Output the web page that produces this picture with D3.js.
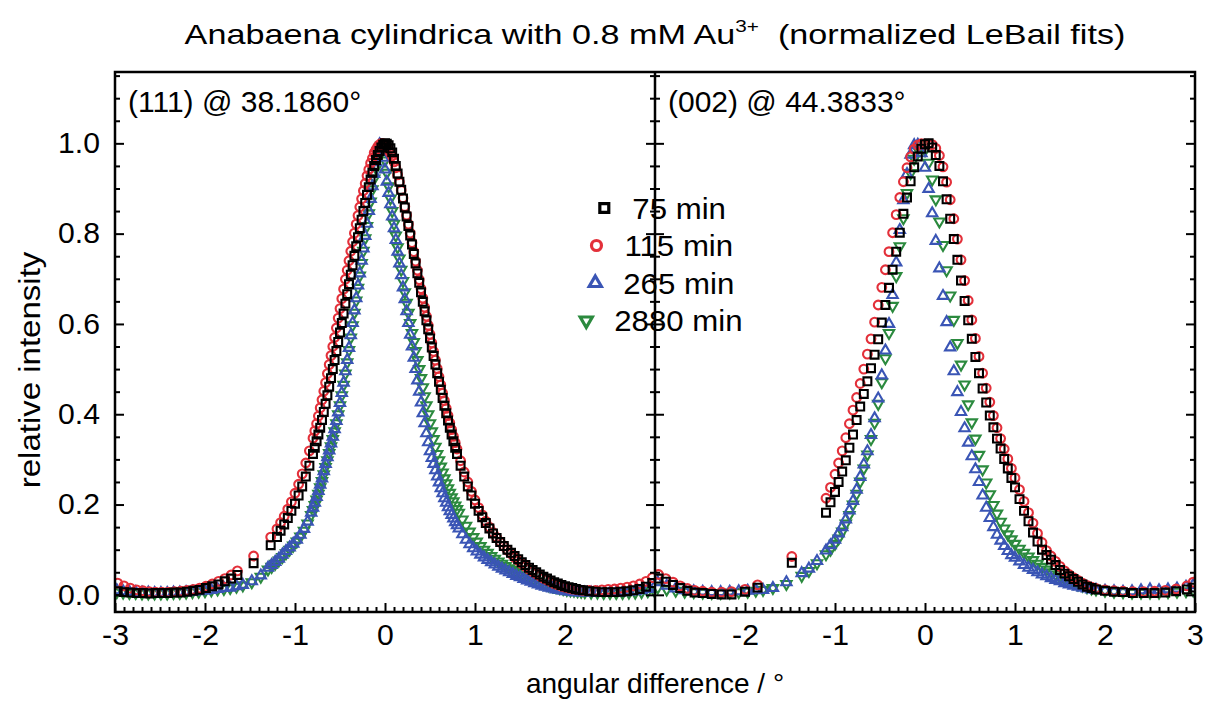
<!DOCTYPE html>
<meta charset="utf-8">
<style>
  body { margin: 0; background: #fff; }
  svg { display: block; font-family: "Liberation Sans", Arial, Helvetica, sans-serif; }
</style>
<body>
<script src="https://cdn.jsdelivr.net/npm/d3@7"></script>
<script>

// series names and colours (legend order)
var seriesNames = ["75 min", "115 min", "265 min", "2880 min"];
var seriesColors = ["#000000", "#e3303a", "#3a55b5", "#2b8a3e"];

var panelLabels = ["(111) @ 38.1860\u00b0", "(002) @ 44.3833\u00b0"];
var yTicks = [0, 0.2, 0.4, 0.6, 0.8, 1.0];
var xTicksLeft = [-3, -2, -1, 0, 1, 2];
var xTicksRight = [-2, -1, 0, 1, 2, 3];

// (111) rows: [angular difference, 75 min, 115 min]
var p111early = [
  [-2.97,.008,.026],[-2.90,.006,.020],[-2.83,.005,.015],[-2.76,.004,.011],[-2.69,.004,.009],
  [-2.62,.003,.007],[-2.55,.004,.006],[-2.48,.004,.006],[-2.41,.004,.006],[-2.34,.005,.007],
  [-2.27,.005,.008],[-2.20,.007,.010],[-2.13,.009,.012],[-2.06,.011,.015],[-1.99,.015,.019],
  [-1.92,.019,.024],[-1.85,.023,.030],[-1.78,.030,.036],[-1.71,.036,.044],[-1.64,.044,.053],
  [-1.46,.070,.086],[-1.27,.110,.128],
  [-1.20,.128,.146],[-1.16,.142,.160],[-1.12,.156,.174],[-1.08,.170,.190],[-1.04,.186,.206],
  [-1.00,.202,.225],[-0.96,.220,.245],[-0.92,.240,.268],[-0.88,.262,.292],[-0.84,.286,.319],
  [-0.80,.312,.347],[-0.78,.326,.363],[-0.76,.340,.379],[-0.74,.355,.396],[-0.72,.370,.414],
  [-0.70,.387,.432],[-0.68,.405,.451],[-0.66,.423,.470],[-0.64,.442,.490],[-0.62,.461,.510],
  [-0.60,.480,.530],[-0.58,.500,.550],[-0.56,.520,.570],[-0.54,.540,.591],[-0.52,.560,.613],
  [-0.50,.581,.634],[-0.48,.602,.656],[-0.46,.623,.677],[-0.44,.645,.699],[-0.42,.666,.719],
  [-0.40,.688,.740],[-0.38,.709,.761],[-0.36,.730,.782],[-0.34,.751,.801],[-0.32,.772,.821],
  [-0.30,.792,.840],[-0.28,.812,.859],[-0.26,.831,.877],[-0.24,.850,.895],[-0.22,.868,.911],
  [-0.20,.886,.928],[-0.18,.903,.942],[-0.16,.920,.956],[-0.14,.935,.967],[-0.12,.950,.979],
  [-0.10,.963,.986],[-0.08,.974,.993],[-0.06,.983,.997],[-0.04,.991,1.000],[-0.02,.997,.999],
  [0.00,1.000,.996],[0.02,.999,.991],[0.04,.996,.985],[0.06,.989,.979],[0.08,.980,.972],
  [0.10,.966,.959],[0.12,.950,.946],[0.14,.933,.930],[0.16,.915,.914],[0.18,.897,.896],
  [0.20,.878,.879],[0.22,.858,.860],[0.24,.838,.841],[0.26,.817,.821],[0.28,.796,.801],
  [0.30,.776,.780],[0.32,.755,.760],[0.34,.734,.739],[0.36,.712,.719],[0.38,.691,.698],
  [0.40,.670,.678],[0.42,.649,.657],[0.44,.628,.637],[0.46,.608,.617],[0.48,.588,.597],
  [0.50,.568,.577],[0.52,.548,.558],[0.54,.529,.539],[0.56,.510,.520],[0.58,.491,.501],
  [0.60,.472,.483],[0.62,.454,.465],[0.64,.436,.447],[0.66,.419,.430],[0.68,.402,.413],
  [0.70,.386,.397],[0.72,.370,.381],[0.74,.355,.366],[0.76,.340,.351],[0.78,.326,.337],
  [0.80,.312,.323],
  [0.84,.286,.297],[0.88,.262,.272],[0.92,.240,.250],[0.96,.220,.229],
  [1.00,.202,.210],[1.04,.186,.193],[1.08,.172,.177],[1.12,.159,.163],[1.16,.147,.150],
  [1.20,.136,.138],[1.24,.126,.127],[1.28,.117,.117],[1.32,.108,.108],[1.36,.100,.099],
  [1.40,.093,.091],[1.44,.086,.083],[1.48,.079,.076],[1.52,.072,.069],[1.56,.066,.063],
  [1.60,.060,.057],[1.64,.055,.052],[1.68,.050,.047],[1.72,.045,.042],[1.76,.040,.037],
  [1.80,.036,.033],[1.84,.032,.029],[1.88,.028,.025],[1.92,.025,.022],[1.96,.022,.019],
  [2.00,.019,.017],[2.04,.017,.015],[2.08,.015,.013],[2.12,.013,.012],[2.16,.011,.011],
  [2.20,.010,.010],[2.27,.008,.010],[2.34,.007,.010],[2.41,.006,.011],[2.48,.006,.012],
  [2.55,.006,.013],[2.62,.007,.015],[2.69,.008,.017],[2.76,.010,.020],[2.83,.013,.024],
  [2.90,.018,.030],[2.97,.026,.038]
];

// (111) rows: [angular difference, 265 min, 2880 min]
var p111late = [
  [-2.98,.010,.006],[-2.91,.008,.005],[-2.84,.007,.004],[-2.77,.006,.004],[-2.70,.005,.003],
  [-2.63,.005,.003],[-2.56,.004,.003],[-2.49,.004,.003],[-2.42,.004,.003],[-2.35,.005,.004],
  [-2.28,.005,.004],[-2.21,.006,.005],[-2.14,.007,.006],[-2.07,.008,.007],[-2.00,.009,.008],
  [-1.93,.011,.010],[-1.86,.013,.012],[-1.79,.015,.013],[-1.72,.016,.015],[-1.65,.019,.018],
  [-1.58,.022,.021],[-1.48,.030,.028],[-1.38,.043,.040],
  [-1.30,.060,.056],[-1.26,.066,.062],[-1.22,.073,.069],[-1.18,.080,.076],[-1.14,.089,.084],
  [-1.10,.097,.092],[-1.06,.105,.100],[-1.02,.113,.109],[-0.98,.122,.118],[-0.94,.133,.129],
  [-0.90,.146,.142],[-0.86,.162,.158],[-0.82,.182,.177],
  [-0.80,.193,.188],[-0.78,.204,.199],[-0.76,.217,.211],[-0.74,.230,.224],[-0.72,.244,.238],
  [-0.70,.258,.252],[-0.68,.274,.267],[-0.66,.290,.283],[-0.64,.305,.298],[-0.62,.320,.314],
  [-0.60,.335,.329],[-0.58,.350,.345],[-0.56,.367,.362],[-0.54,.385,.380],[-0.52,.404,.400],
  [-0.50,.425,.420],[-0.48,.447,.442],[-0.46,.470,.465],[-0.44,.495,.490],[-0.42,.520,.515],
  [-0.40,.547,.542],[-0.38,.575,.570],[-0.36,.602,.597],[-0.34,.630,.625],[-0.32,.657,.652],
  [-0.30,.685,.680],[-0.28,.712,.707],[-0.26,.740,.735],[-0.24,.767,.762],[-0.22,.795,.790],
  [-0.20,.822,.817],[-0.18,.850,.845],[-0.16,.877,.871],[-0.14,.905,.898],[-0.12,.932,.922],
  [-0.10,.958,.945],[-0.08,.985,.965],[-0.06,.998,.982],[-0.04,.990,.995],[-0.02,.968,.990],
  [0.00,.942,.962],[0.02,.915,.935],[0.04,.890,.905],[0.06,.865,.878],[0.08,.838,.850],
  [0.10,.812,.822],[0.12,.786,.796],[0.14,.760,.770],[0.16,.734,.745],[0.18,.708,.720],
  [0.20,.681,.695],[0.22,.655,.670],[0.24,.628,.647],[0.26,.602,.625],[0.28,.576,.602],
  [0.30,.550,.580],[0.32,.525,.560],[0.34,.500,.540],[0.36,.475,.520],[0.38,.450,.500],
  [0.40,.426,.480],[0.42,.402,.460],[0.44,.380,.440],[0.46,.358,.420],[0.48,.338,.400],
  [0.50,.318,.380],[0.52,.303,.362],[0.54,.290,.345],[0.56,.276,.328],[0.58,.262,.312],
  [0.60,.249,.298],[0.62,.236,.284],[0.64,.225,.271],[0.66,.214,.258],[0.68,.204,.247],
  [0.70,.194,.236],[0.72,.185,.226],[0.74,.177,.216],[0.76,.169,.207],[0.78,.161,.198],
  [0.80,.154,.190],
  [0.82,.147,.182],[0.86,.134,.167],[0.90,.122,.153],[0.94,.112,.140],[0.98,.103,.128],
  [1.02,.096,.118],[1.06,.089,.108],[1.10,.083,.100],[1.14,.077,.093],[1.18,.072,.086],
  [1.22,.067,.080],[1.26,.062,.074],[1.30,.058,.069],[1.34,.054,.064],[1.38,.050,.059],
  [1.42,.046,.055],[1.46,.042,.051],[1.50,.039,.047],[1.54,.035,.043],[1.58,.032,.040],
  [1.62,.029,.036],[1.66,.026,.033],[1.70,.023,.030],[1.74,.020,.027],[1.78,.018,.024],
  [1.82,.016,.021],[1.86,.014,.019],[1.90,.012,.017],[1.94,.011,.015],[1.98,.009,.013],
  [2.02,.008,.011],[2.06,.007,.010],[2.10,.006,.009],[2.14,.006,.008],[2.18,.005,.007],
  [2.22,.005,.006],[2.29,.005,.005],[2.36,.004,.005],[2.43,.004,.004],[2.50,.005,.004],
  [2.57,.005,.004],[2.64,.006,.004],[2.71,.007,.005],[2.78,.008,.005],[2.85,.010,.006],
  [2.92,.013,.008],[2.99,.017,.010]
];

// (002) rows: [angular difference, 75 min, 115 min]
var p002early = [
  [-2.96,.036,.045],[-2.88,.029,.036],[-2.80,.022,.028],[-2.72,.015,.020],[-2.64,.009,.014],
  [-2.56,.005,.010],[-2.47,.004,.008],[-2.37,.002,.006],[-2.26,.001,.006],[-2.15,.001,.007],
  [-2.00,.007,.012],[-1.86,.016,.022],[-1.48,.071,.085],
  [-1.10,.182,.214],[-1.05,.205,.238],
  [-1.00,.228,.267],[-0.96,.250,.292],[-0.92,.273,.319],[-0.88,.298,.348],[-0.84,.326,.379],
  [-0.80,.355,.409],[-0.76,.387,.437],[-0.72,.417,.468],[-0.68,.445,.500],[-0.64,.473,.533],
  [-0.60,.502,.567],[-0.56,.532,.604],[-0.52,.566,.642],[-0.48,.603,.681],[-0.44,.642,.720],
  [-0.40,.680,.760],[-0.36,.720,.802],[-0.32,.760,.842],[-0.28,.802,.880],[-0.24,.844,.915],
  [-0.20,.880,.946],[-0.16,.916,.970],[-0.12,.947,.987],[-0.08,.971,.996],[-0.04,.988,.999],
  [0.00,.998,.998],[0.04,1.000,.998],[0.08,.991,.997],[0.12,.974,.989],[0.16,.950,.973],
  [0.20,.916,.948],[0.24,.876,.914],[0.28,.833,.875],[0.32,.788,.833],[0.36,.742,.788],
  [0.40,.696,.742],[0.44,.651,.696],[0.48,.608,.652],[0.52,.567,.609],[0.56,.527,.568],
  [0.60,.491,.528],[0.64,.457,.491],[0.68,.426,.458],[0.72,.397,.427],[0.76,.371,.397],
  [0.80,.346,.370],[0.84,.324,.346],[0.88,.301,.323],[0.92,.280,.301],[0.96,.259,.280],
  [1.00,.238,.259],
  [1.05,.212,.233],[1.10,.186,.207],
  [1.15,.163,.182],[1.20,.138,.159],[1.25,.118,.136],[1.30,.100,.116],[1.35,.088,.098],
  [1.40,.078,.086],[1.45,.066,.074],[1.50,.055,.063],[1.55,.047,.053],[1.60,.041,.045],
  [1.65,.035,.038],[1.70,.029,.032],[1.75,.023,.026],[1.80,.018,.021],[1.85,.015,.017],
  [1.90,.012,.014],[2.00,.009,.011],[2.10,.007,.009],[2.20,.006,.008],[2.31,.004,.007],
  [2.43,.004,.007],[2.55,.004,.008],[2.67,.005,.010],[2.79,.008,.013],[2.91,.012,.020],
  [2.98,.016,.028]
];

// (002) rows: [angular difference, 265 min, 2880 min]
var p002late = [
  [-2.97,.028,.016],[-2.87,.020,.012],[-2.77,.014,.009],[-2.67,.010,.007],[-2.57,.008,.006],
  [-2.47,.007,.005],[-2.37,.006,.004],[-2.27,.006,.004],[-2.17,.007,.005],[-2.07,.008,.006],
  [-1.97,.009,.007],[-1.88,.010,.009],[-1.80,.011,.011],[-1.69,.015,.015],[-1.54,.028,.024],
  [-1.37,.048,.042],[-1.29,.058,.053],[-1.20,.075,.070],
  [-1.10,.098,.090],[-1.05,.110,.100],
  [-1.00,.122,.113],[-0.96,.136,.125],[-0.92,.150,.140],[-0.88,.167,.158],[-0.84,.187,.177],
  [-0.80,.208,.200],[-0.76,.233,.224],[-0.72,.261,.251],[-0.68,.289,.280],[-0.64,.318,.311],
  [-0.60,.354,.345],[-0.56,.391,.381],[-0.52,.435,.423],[-0.48,.486,.471],[-0.44,.541,.524],
  [-0.40,.600,.580],[-0.36,.664,.640],[-0.32,.736,.706],[-0.28,.808,.772],[-0.24,.874,.834],
  [-0.20,.932,.890],[-0.16,.975,.934],[-0.12,.996,.966],[-0.08,.997,.987],[-0.04,.978,.997],
  [0.00,.946,.985],[0.04,.899,.957],[0.08,.845,.920],[0.12,.784,.876],[0.16,.723,.827],
  [0.20,.662,.775],[0.24,.604,.719],[0.28,.548,.663],[0.32,.495,.609],[0.36,.449,.558],
  [0.40,.405,.510],[0.44,.369,.466],[0.48,.337,.422],[0.52,.307,.382],[0.56,.278,.346],
  [0.60,.250,.310],[0.64,.220,.278],[0.68,.193,.249],[0.72,.170,.223],[0.76,.150,.199],
  [0.80,.133,.180],[0.84,.120,.162],[0.88,.108,.147],[0.92,.097,.134],[0.96,.088,.123],
  [1.00,.082,.113],
  [1.05,.074,.102],[1.10,.066,.093],
  [1.15,.060,.085],[1.20,.055,.077],[1.25,.050,.069],[1.30,.045,.062],[1.35,.041,.056],
  [1.40,.037,.050],[1.45,.033,.045],[1.50,.030,.040],[1.55,.026,.035],[1.60,.023,.031],
  [1.65,.020,.027],[1.70,.018,.023],[1.75,.016,.020],[1.80,.014,.017],[1.85,.012,.014],
  [1.90,.011,.012],[2.00,.009,.009],[2.10,.008,.007],[2.20,.007,.006],[2.30,.008,.005],
  [2.40,.010,.005],[2.50,.012,.005],[2.60,.010,.005],[2.70,.012,.006],[2.80,.014,.007],
  [2.90,.018,.008],[2.98,.022,.010]
];

var width = 1205, height = 702;
var box = {left: 115, right: 1195, top: 72, bottom: 612};
var mid = 655;

var svg = d3.select("body").append("svg")
    .attr("width", width)
    .attr("height", height);

svg.append("rect").attr("width", width).attr("height", height).attr("fill", "#fff");

var y = d3.scaleLinear().domain([-0.038, 1.158]).range([box.bottom, box.top]);
var xL = d3.scaleLinear().domain([-3, 3]).range([box.left, mid]);
var xR = d3.scaleLinear().domain([-3, 3]).range([mid, box.right]);

// stretch text horizontally a bit, the reference type is wide
function widen(sel, k) {
  sel.each(function() {
    var len = this.getComputedTextLength();
    d3.select(this).attr("textLength", len * k).attr("lengthAdjust", "spacingAndGlyphs");
  });
}

// markers: square, circle, up triangle, down triangle
var symbols = [
  d3.symbol().type(d3.symbolSquare).size(62),
  d3.symbol().type(d3.symbolCircle).size(60),
  d3.symbol().type(d3.symbolTriangle).size(46),
  d3.symbol().type(d3.symbolTriangle).size(46)
];
function markerTransform(i, px, py) {
  return "translate(" + px + "," + py + ")" + (i === 3 ? " rotate(180)" : "");
}

var defs = svg.append("defs");
defs.append("clipPath").attr("id", "clipL").append("rect")
    .attr("x", box.left).attr("y", box.top).attr("width", mid - box.left).attr("height", box.bottom - box.top);
defs.append("clipPath").attr("id", "clipR").append("rect")
    .attr("x", mid).attr("y", box.top).attr("width", box.right - mid).attr("height", box.bottom - box.top);

function drawPanel(x, clip, early, late) {
  var g = svg.append("g").attr("clip-path", "url(#" + clip + ")");
  // later times first so 75 min sits on top
  var layers = [[late, 2, 3], [late, 1, 2], [early, 2, 1], [early, 1, 0]];
  layers.forEach(function(l) {
    var rows = l[0], col = l[1], si = l[2];
    g.append("g").selectAll("path")
        .data(rows)
      .enter().append("path")
        .attr("d", symbols[si])
        .attr("transform", function(d) { return markerTransform(si, x(d[0]), y(d[col])); })
        .attr("fill", "none")
        .attr("stroke", seriesColors[si])
        .attr("stroke-width", 2.1);
  });
}

drawPanel(xL, "clipL", p111early, p111late);
drawPanel(xR, "clipR", p002early, p002late);

// ticks
var minorY = d3.range(-0.0, 1.151, 0.05).filter(function(v) { return Math.abs(v * 5 - Math.round(v * 5)) > 1e-6; });
var minorXL = d3.range(-3, 3.001, 0.1).filter(function(v) { return Math.abs(v - Math.round(v)) > 1e-6; });

function noLine(g) { g.select(".domain").remove(); g.selectAll("line").attr("stroke", "#000").attr("stroke-width", 2); }

// left axis
svg.append("g").attr("transform", "translate(" + box.left + ",0)")
    .call(d3.axisLeft(y).tickValues(yTicks).tickSize(-9).tickPadding(15).tickFormat(d3.format(".1f")))
    .call(noLine)
    .call(function(g) {
      g.selectAll("text").attr("font-size", 29).attr("fill", "#000").attr("font-family", null);
      widen(g.selectAll("text"), 1.04);
    });
svg.append("g").attr("transform", "translate(" + box.left + ",0)")
    .call(d3.axisLeft(y).tickValues(minorY).tickSize(-5).tickFormat(""))
    .call(noLine);

// right axis, ticks inward
svg.append("g").attr("transform", "translate(" + box.right + ",0)")
    .call(d3.axisRight(y).tickValues(yTicks).tickSize(-9).tickFormat(""))
    .call(noLine);
svg.append("g").attr("transform", "translate(" + box.right + ",0)")
    .call(d3.axisRight(y).tickValues(minorY).tickSize(-5).tickFormat(""))
    .call(noLine);

// divider, ticks on both sides
[[yTicks, 9], [minorY, 5]].forEach(function(t) {
  svg.append("g").attr("transform", "translate(" + mid + ",0)")
      .call(d3.axisLeft(y).tickValues(t[0]).tickSize(t[1]).tickFormat(""))
      .call(noLine);
  svg.append("g").attr("transform", "translate(" + mid + ",0)")
      .call(d3.axisRight(y).tickValues(t[0]).tickSize(t[1]).tickFormat(""))
      .call(noLine);
});

// bottom axes
[[xL, xTicksLeft], [xR, xTicksRight]].forEach(function(a) {
  svg.append("g").attr("transform", "translate(0," + box.bottom + ")")
      .call(d3.axisBottom(a[0]).tickValues(a[1]).tickSize(-9).tickPadding(12).tickFormat(d3.format("d")))
      .call(noLine)
      .call(function(g) {
        g.selectAll("text").attr("font-size", 29).attr("fill", "#000").attr("font-family", null)
          .text(function(d) { return d < 0 ? "-" + Math.abs(d) : d; });
        widen(g.selectAll("text"), 1.04);
      });
  svg.append("g").attr("transform", "translate(0," + box.bottom + ")")
      .call(d3.axisBottom(a[0]).tickValues(minorXL).tickSize(-5).tickFormat(""))
      .call(noLine);
});

// frame and divider
svg.append("rect")
    .attr("x", box.left).attr("y", box.top)
    .attr("width", box.right - box.left).attr("height", box.bottom - box.top)
    .attr("fill", "none").attr("stroke", "#000").attr("stroke-width", 2.5);
svg.append("line")
    .attr("x1", mid).attr("x2", mid).attr("y1", box.top).attr("y2", box.bottom)
    .attr("stroke", "#000").attr("stroke-width", 2.5);

// panel labels
svg.append("text").attr("x", box.left + 13).attr("y", 112).attr("font-size", 30)
    .text(panelLabels[0]);
svg.append("text").attr("x", mid + 13).attr("y", 112).attr("font-size", 30)
    .text(panelLabels[1]);

// legend
var legend = svg.append("g");
seriesNames.forEach(function(name, i) {
  var ly = 208 + i * 37.5;
  var t = legend.append("text").attr("y", ly + 10.5).attr("font-size", 30).text(name);
  widen(t, 1.04);
  var w = t.node().getComputedTextLength() * 1.04;
  var mx = 668 - (30 + w) / 2;
  t.attr("x", mx + 28);
  legend.append("path")
      .attr("d", d3.symbol().type(i === 0 ? d3.symbolSquare : i === 1 ? d3.symbolCircle : d3.symbolTriangle).size(i === 0 ? 80 : i === 1 ? 78 : 64)())
      .attr("transform", markerTransform(i, mx, ly))
      .attr("fill", "none").attr("stroke", seriesColors[i]).attr("stroke-width", 3.2);
});

// title
var title = svg.append("text").attr("x", 655).attr("y", 44).attr("text-anchor", "middle").attr("font-size", 28);
title.append("tspan").text("Anabaena cylindrica with 0.8 mM Au");
title.append("tspan").attr("font-size", 17).attr("dy", -12).text("3+");
title.append("tspan").attr("dy", 12).text("\u00a0 (normalized LeBail fits)");
widen(title, 1.22);

// axis titles
svg.append("text").attr("x", 655).attr("y", 693).attr("text-anchor", "middle").attr("font-size", 28)
    .text("angular difference / \u00b0");
svg.append("text").attr("transform", "translate(40,370) rotate(-90)").attr("text-anchor", "middle").attr("font-size", 30)
    .text("relative intensity").call(widen, 1.1);

</script>
</body>
